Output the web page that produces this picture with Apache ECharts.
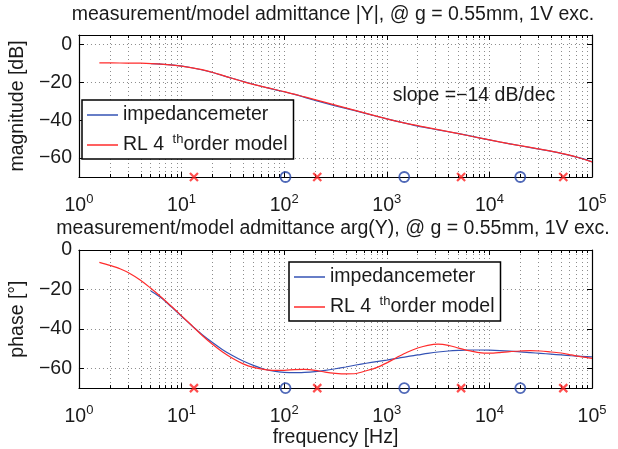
<!DOCTYPE html>
<html>
<head>
<meta charset="utf-8">
<script src="https://cdn.jsdelivr.net/npm/echarts@6/dist/echarts.min.js"></script>
<style>html,body{margin:0;padding:0;background:#fff}#c{width:618px;height:449px}</style>
</head>
<body>
<div id="c"></div>
<script>
// ---- data ----
const freqMag = [1.58, 2.51, 3.98, 6.31, 10, 15.8, 25.1, 39.8, 63.1, 100, 158, 251, 398, 631, 1000, 1580, 2510, 3980, 6310, 10000, 15800, 25100, 39800, 63100, 100000];
const magModel = [-9.7, -9.8, -9.9, -10.4, -11.4, -13.3, -16.3, -19.6, -22.4, -24.9, -27.7, -30.6, -33.5, -36.4, -39.3, -41.8, -43.9, -46.0, -48.2, -50.4, -52.5, -54.4, -56.3, -58.7, -62.0];
const freqMagMeas = [5.01, 7.94, 12.6, 20, 31.6, 50.1, 79.4, 126, 200, 316, 501, 794, 1260, 2000, 3160, 5010, 7940, 12600, 20000, 31600, 50100, 79400, 100000];
const magMeas = [-10.1, -10.8, -12.3, -14.8, -18.0, -21.0, -23.7, -26.4, -29.5, -32.4, -35.1, -37.9, -40.6, -43.1, -45.1, -47.1, -49.3, -51.5, -53.5, -55.4, -57.5, -60.2, -62.0];

const freqPh = [1.58, 2.0, 2.51, 3.16, 3.98, 5.01, 6.31, 7.94, 10, 12.6, 15.8, 20, 25.1, 31.6, 39.8, 50.1, 63.1, 79.4, 100, 126, 158, 200, 251, 316, 398, 501, 631, 794, 1000, 1260, 1580, 2000, 2510, 3160, 3980, 5010, 6310, 7940, 10000, 12600, 15800, 20000, 25100, 31600, 39800, 50100, 63100, 79400, 100000];
const phModel = [-6.3, -7.8, -9.5, -12.0, -15.3, -19.4, -23.8, -28.5, -33.4, -38.3, -43.2, -47.8, -51.7, -55.0, -57.7, -59.5, -60.5, -61.0, -61.0, -60.6, -60.5, -61.0, -61.9, -62.5, -62.8, -62.6, -61.2, -59.6, -57.2, -54.4, -51.8, -49.7, -48.3, -47.7, -48.3, -49.7, -51.0, -52.0, -52.3, -52.0, -51.5, -51.2, -51.0, -51.2, -51.7, -52.2, -53.2, -54.2, -54.9];
const freqPhMeas = [5.01, 6.31, 7.94, 10, 12.6, 15.8, 20, 25.1, 31.6, 39.8, 50.1, 63.1, 79.4, 100, 126, 158, 200, 251, 316, 398, 501, 631, 794, 1000, 1260, 1580, 2000, 2510, 3160, 3980, 5010, 6310, 7940, 10000, 12600, 15800, 20000, 25100, 31600, 39800, 50100, 63100, 79400, 100000];
const phMeas = [-20.8, -24.2, -28.8, -33.6, -38.4, -42.8, -46.9, -50.5, -53.6, -56.3, -58.5, -60.3, -61.4, -62.0, -62.2, -62.0, -61.6, -61.0, -60.2, -59.3, -58.3, -57.4, -56.6, -55.8, -54.9, -54.0, -53.2, -52.4, -51.7, -51.2, -50.9, -50.7, -50.7, -50.8, -51.0, -51.3, -51.6, -52.0, -52.4, -52.8, -53.2, -53.6, -53.9, -54.2];

const redMarkFreq = [13.2, 210, 5300, 52500];
const blueMarkFreq = [103, 1480, 20000];
const markLevelMag = -70;
const markLevelPh = -70;

const xTicks = [1, 10, 100, 1000, 10000, 100000];
const magTicks = [-60, -40, -20, 0];
const phTicks = [-60, -40, -20, 0];

const titleMag = 'measurement/model admittance |Y|, @ g = 0.55mm, 1V exc.';
const titlePh = 'measurement/model admittance arg(Y), @ g = 0.55mm, 1V exc.';
const nameMeas = 'impedancemeter';
const nameModel = 'RL 4th order model';
const slopeText = 'slope =\u221214 dB/dec';

// ---- styling ----
const FF = 'Liberation Sans';
const TXT = '#1a1a1a';
const FS = 19.5;
const BLUE = '#3553b5';
const RED = '#ff2b2b';
const GRID = { color: '#8c8c8c', width: 1, type: [1, 3] };

const pairs = (xs, ys) => xs.map((x, i) => [x, ys[i]]);
const pts = (xs, y) => xs.map(x => [x, y]);
const fmtY = v => (v < 0 ? '\u2212' + Math.abs(v) : String(v));

function xAxes(gi, withName) {
  return [
    {
      gridIndex: gi, type: 'log', logBase: 10, min: 1, max: 100000, position: 'bottom',
      axisLine: { show: true, onZero: false, lineStyle: { color: '#000', width: 1.2 } },
      axisTick: { show: true, inside: true, length: 5, customValues: xTicks, lineStyle: { color: '#000' } },
      minorTick: { show: true, splitNumber: 9, length: 3, lineStyle: { color: '#000' } },
      splitLine: { show: true, lineStyle: GRID },
      minorSplitLine: { show: true, lineStyle: GRID },
      axisLabel: {
        customValues: xTicks, margin: 16,
        formatter: v => '{b|10}{s|' + Math.round(Math.log10(v)) + '}',
        rich: {
          b: { fontSize: FS, fontFamily: FF, color: TXT, lineHeight: 26 },
          s: { fontSize: 13, fontFamily: FF, color: TXT, verticalAlign: 'top', lineHeight: 14 }
        }
      },
      name: withName ? 'frequency [Hz]' : '', nameLocation: 'middle', nameGap: 26,
      nameTextStyle: { fontSize: FS, fontFamily: FF, color: TXT }
    },
    {
      gridIndex: gi, type: 'log', logBase: 10, min: 1, max: 100000, position: 'top',
      axisLine: { show: true, onZero: false, lineStyle: { color: '#000', width: 1.2 } },
      axisTick: { show: true, inside: true, length: 5, customValues: xTicks, lineStyle: { color: '#000' } },
      minorTick: { show: true, splitNumber: 9, length: 3, lineStyle: { color: '#000' } },
      splitLine: { show: false }, minorSplitLine: { show: false },
      axisLabel: { show: false }
    }
  ];
}

function yAxes(gi, min, max, ticks, name, gap) {
  return [
    {
      gridIndex: gi, type: 'value', min: min, max: max, position: 'left',
      axisLine: { show: true, onZero: false, lineStyle: { color: '#000', width: 1.2 } },
      axisTick: { show: true, inside: true, length: 5, customValues: ticks, lineStyle: { color: '#000' } },
      splitLine: { show: true, lineStyle: GRID },
      axisLabel: { customValues: ticks, formatter: fmtY, fontSize: FS, fontFamily: FF, color: TXT, margin: 7 },
      name: name, nameLocation: 'middle', nameGap: gap, nameRotate: 90,
      nameTextStyle: { fontSize: FS, fontFamily: FF, color: TXT }
    },
    {
      gridIndex: gi, type: 'value', min: min, max: max, position: 'right',
      axisLine: { show: true, onZero: false, lineStyle: { color: '#000', width: 1.2 } },
      axisTick: { show: true, inside: true, length: 5, customValues: ticks, lineStyle: { color: '#000' } },
      splitLine: { show: false },
      axisLabel: { show: false }
    }
  ];
}

const legendRich = {
  t: { fontSize: FS, fontFamily: FF, color: TXT, lineHeight: 24 },
  s: { fontSize: 13, fontFamily: FF, color: TXT, verticalAlign: 'top', lineHeight: 14, padding: [0, 0, 0, 3] }
};
function legendFmt(n) {
  if (n === nameModel) return '{t|RL 4 }{s|th}{t|order model}';
  return '{t|' + n + '}';
}
function legend(left, top) {
  return {
    data: [nameMeas, nameModel], orient: 'vertical', left: left, top: top,
    icon: 'rect', itemWidth: 31, itemHeight: 1.5, itemGap: 8,
    padding: [5, 6, 4, 5], borderColor: '#000', borderWidth: 1.5, backgroundColor: '#fff',
    formatter: legendFmt, textStyle: { rich: legendRich, fontSize: FS, fontFamily: FF, color: TXT },
    selectedMode: false
  };
}

const lineS = (name, data, color, xi, yi, z) => ({
  name: name, type: 'line', data: data, xAxisIndex: xi, yAxisIndex: yi,
  showSymbol: false, symbol: 'none', smooth: 0.3, z: z,
  lineStyle: { color: color, width: 1.2 }, itemStyle: { color: color }
});
const crossS = (data, xi, yi) => ({
  type: 'scatter', data: data, xAxisIndex: xi, yAxisIndex: yi, clip: false, z: 6,
  symbol: 'path://M0,0L10,10M10,0L0,10', symbolSize: 8,
  itemStyle: { color: 'none', borderColor: '#f22', borderWidth: 2.2 }, silent: true
});
const circS = (data, xi, yi) => ({
  type: 'scatter', data: data, xAxisIndex: xi, yAxisIndex: yi, clip: false, z: 6,
  symbol: 'circle', symbolSize: 10,
  itemStyle: { color: 'rgba(0,0,0,0)', borderColor: '#2444a6', borderWidth: 1.8 }, silent: true
});

const option = {
  animation: false,
  backgroundColor: '#fff',
  grid: [
    { left: 73, top: 35, width: 519, height: 142 },
    { left: 73, top: 250, width: 519, height: 143 }
  ],
  xAxis: [].concat(xAxes(0, false), xAxes(1, true)),
  yAxis: [].concat(yAxes(0, -70, 5, magTicks, 'magnitude [dB]', 41), yAxes(1, -70, 0, phTicks, 'phase [\u00b0]', 41)),
  legend: [legend(82, 100), legend(289, 262)],
  graphic: [
    { type: 'text', x: 333, y: 15, style: { text: titleMag, fontSize: FS, fontFamily: FF, fill: TXT, textAlign: 'center', textVerticalAlign: 'middle', align: 'center', verticalAlign: 'middle' } },
    { type: 'text', x: 333, y: 229, style: { text: titlePh, fontSize: FS, fontFamily: FF, fill: TXT, textAlign: 'center', textVerticalAlign: 'middle', align: 'center', verticalAlign: 'middle' } },
    { type: 'text', x: 474, y: 96, z: 10, style: { text: slopeText, fontSize: FS, fontFamily: FF, fill: TXT, textAlign: 'center', textVerticalAlign: 'middle', align: 'center', verticalAlign: 'middle' } }
  ],
  series: [
    lineS(nameMeas, pairs(freqMagMeas, magMeas), BLUE, 0, 0, 3),
    lineS(nameModel, pairs(freqMag, magModel), RED, 0, 0, 4),
    crossS(pts(redMarkFreq, markLevelMag), 0, 0),
    circS(pts(blueMarkFreq, markLevelMag), 0, 0),
    lineS(nameMeas, pairs(freqPhMeas, phMeas), BLUE, 2, 2, 3),
    lineS(nameModel, pairs(freqPh, phModel), RED, 2, 2, 4),
    crossS(pts(redMarkFreq, markLevelPh), 2, 2),
    circS(pts(blueMarkFreq, markLevelPh), 2, 2)
  ]
};

const chart = echarts.init(document.getElementById('c'), null, { renderer: 'canvas' });
chart.setOption(option);
</script>
</body>
</html>
